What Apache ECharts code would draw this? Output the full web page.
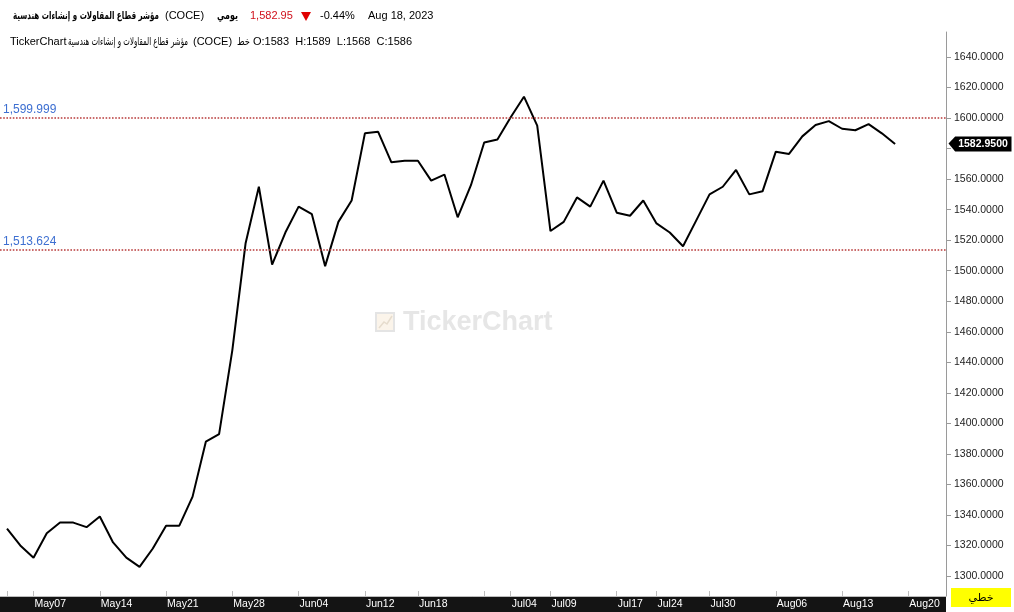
<!DOCTYPE html>
<html>
<head>
<meta charset="utf-8">
<title>COCE</title>
<script src="https://cdn.jsdelivr.net/npm/echarts@6/dist/echarts.min.js"></script>
<style>
  html, body { margin: 0; padding: 0; background: #fff; }
  #chart { width: 1014px; height: 612px; }
</style>
</head>
<body>
<div id="chart"></div>
<script>
// جلسات التداول (محور السينات) - آخر عنصر جلسة بدون بيانات
const dates = [
  'May03', 'May04', 'May07', 'May08', 'May09', 'May10', 'May11',
  'May14', 'May15', 'May16', 'May17', 'May18',
  'May21', 'May22', 'May23', 'May24', 'May25',
  'May28', 'May29', 'May30', 'May31', 'Jun01',
  'Jun04', 'Jun05', 'Jun06', 'Jun07', 'Jun08',
  'Jun12', 'Jun13', 'Jun14', 'Jun15',
  'Jun18', 'Jun19', 'Jun20', 'Jun21', 'Jun22',
  'Jun25', 'Jun26',
  'Jul04', 'Jul05', 'Jul06',
  'Jul09', 'Jul10', 'Jul11', 'Jul12', 'Jul13',
  'Jul17', 'Jul18', 'Jul19',
  'Jul24', 'Jul25', 'Jul26', 'Jul27',
  'Jul30', 'Jul31', 'Aug01', 'Aug02', 'Aug03',
  'Aug06', 'Aug07', 'Aug08', 'Aug09', 'Aug10',
  'Aug13', 'Aug14', 'Aug15', 'Aug16', 'Aug17',
  'Aug20'
];

// سعر الإغلاق
const closes = [
  1331, 1320, 1312, 1328, 1335, 1335, 1332,
  1339, 1322, 1312, 1306, 1318,
  1333, 1333, 1352, 1388, 1393,
  1448, 1518, 1555, 1504, 1525,
  1542, 1537, 1503, 1532, 1546,
  1590, 1591, 1571, 1572,
  1572, 1559, 1563, 1535, 1556,
  1584, 1586,
  1600.5, 1614, 1595,
  1526, 1532, 1548, 1542, 1559,
  1538, 1536, 1546,
  1531, 1525, 1516, 1533,
  1550, 1555, 1566, 1550, 1552,
  1578, 1576.5, 1588, 1595.5, 1598,
  1593, 1592, 1596, 1590, 1582.95
];

const tickDates = ['May03', 'May07', 'May14', 'May21', 'May28', 'Jun04', 'Jun12', 'Jun18',
  'Jun25', 'Jul04', 'Jul09', 'Jul17', 'Jul24', 'Jul30', 'Aug06', 'Aug13', 'Aug20'];
const labelDates = ['May07', 'May14', 'May21', 'May28', 'Jun04', 'Jun12', 'Jun18',
  'Jul04', 'Jul09', 'Jul17', 'Jul24', 'Jul30', 'Aug06', 'Aug13', 'Aug20'];

const yTicks = [1300, 1320, 1340, 1360, 1380, 1400, 1420, 1440, 1460, 1480,
  1500, 1520, 1540, 1560, 1580, 1600, 1620, 1640];

const refLevels = [1599.999, 1513.624];
const refLabels = ['1,599.999', '1,513.624'];

const font = '"Liberation Sans", Arial, sans-serif';
const arFont = '"DejaVu Sans", sans-serif';
const xMin = -0.529;
const xMax = 70.84;
const lastClose = closes[closes.length - 1];

// النص العربي أعرض من الأصل، نضغطه أفقياً ليأخذ نفس العرض
let measureCtx = document.createElement('canvas').getContext('2d');
function fitScale(text, f, w) {
  measureCtx.font = f;
  let m = measureCtx.measureText(text).width;
  return m > w ? w / m : 1;
}
function arText(text, x, y, f, w) {
  return {
    type: 'text',
    x: x, y: y,
    scaleX: fitScale(text, f, w),
    style: { text: text, fill: '#000', font: f, verticalAlign: 'middle' }
  };
}
function plainText(text, x, y, color) {
  return {
    type: 'text',
    x: x, y: y,
    style: { text: text, fill: color || '#000', font: '11px ' + font, verticalAlign: 'middle' }
  };
}

let chart = echarts.init(document.getElementById('chart'));

let option = {
  backgroundColor: '#fff',
  animation: false,
  grid: {
    left: 0,
    right: 68,
    top: 32,
    bottom: 16
  },
  xAxis: {
    type: 'value',
    min: xMin,
    max: xMax,
    splitLine: { show: false },
    axisLine: {
      show: true,
      onZero: false,
      lineStyle: { color: '#bdbdbd', width: 1 }
    },
    axisTick: {
      show: true,
      inside: true,
      length: 5,
      customValues: tickDates.map(d => dates.indexOf(d)),
      lineStyle: { color: '#bdbdbd' }
    },
    axisLabel: {
      customValues: labelDates.map(d => dates.indexOf(d)),
      formatter: function (v) {
        return dates[v];
      },
      color: '#fff',
      fontSize: 10.5,
      fontFamily: font,
      align: 'left',
      padding: [0, 0, 0, 1],
      margin: 3
    }
  },
  yAxis: {
    type: 'value',
    position: 'right',
    min: 1286.9,
    max: 1656.38,
    splitLine: { show: false },
    axisLine: {
      show: true,
      onZero: false,
      lineStyle: { color: '#9a9a9a', width: 1 }
    },
    axisTick: {
      show: true,
      length: 5,
      customValues: yTicks,
      lineStyle: { color: '#9a9a9a' }
    },
    axisLabel: {
      customValues: yTicks,
      formatter: function (v) {
        return v.toFixed(4);
      },
      color: '#222',
      fontSize: 10.5,
      fontFamily: font,
      margin: 8
    }
  },
  series: [
    {
      type: 'line',
      data: closes.map((v, i) => [i, v]),
      showSymbol: false,
      symbol: 'none',
      clip: false,
      lineStyle: { color: '#000', width: 2 },
      markLine: {
        silent: true,
        symbol: ['none', 'none'],
        lineStyle: { type: 'dotted', color: '#b83a3a', width: 1.6 },
        label: {
          position: 'insideStartTop',
          color: '#3d6fd1',
          fontSize: 12,
          fontFamily: font,
          distance: [3, 2]
        },
        data: refLevels.map((v, i) => ({
          yAxis: v,
          label: { formatter: refLabels[i] }
        }))
      },
      markPoint: {
        silent: true,
        symbol: 'path://M0,7 L7,0 L66,0 L66,15 L7,15 Z',
        symbolSize: [63, 15],
        symbolOffset: [34, 0],
        symbolKeepAspect: false,
        itemStyle: { color: '#000' },
        label: {
          show: true,
          color: '#fff',
          fontSize: 10.5,
          fontWeight: 'bold',
          fontFamily: font,
          offset: [3, 0],
          formatter: function (p) {
            return p.value.toFixed(4);
          }
        },
        data: [{ coord: [xMax, lastClose], value: lastClose }]
      }
    }
  ],
  graphic: [
    // شريط المحور السفلي
    {
      type: 'rect',
      z: -10,
      shape: { x: 0, y: 596, width: 946, height: 16 },
      style: { fill: '#141414' }
    },
    // نوع الرسم
    {
      type: 'rect',
      shape: { x: 951, y: 588, width: 60, height: 19 },
      style: { fill: '#ffff00' }
    },
    {
      type: 'text',
      x: 981, y: 598,
      style: { text: 'خطي', fill: '#000', font: '11px ' + arFont, align: 'center', verticalAlign: 'middle' }
    },
    // العلامة المائية
    {
      type: 'rect',
      z: -5,
      shape: { x: 376, y: 313, width: 18, height: 18 },
      style: { fill: '#fbf4ea', stroke: '#e4e4e4', lineWidth: 2 }
    },
    {
      type: 'polyline',
      z: -5,
      shape: { points: [[379, 328], [384, 322], [387, 324], [392, 316]] },
      style: { stroke: '#e6dccd', lineWidth: 1.5, fill: null }
    },
    {
      type: 'text',
      z: -5,
      x: 403, y: 323,
      style: { text: 'TickerChart', fill: '#e6e6e6', font: 'bold 27px ' + font, verticalAlign: 'middle' }
    },
    // العنوان - السطر الأول
    arText('مؤشر قطاع المقاولات و إنشاءات هندسية', 13, 16, 'bold 11px ' + arFont, 146),
    plainText('(COCE)', 165, 16),
    arText('يومي', 217, 16, 'bold 11px ' + arFont, 21),
    plainText('1,582.95', 250, 16, '#d0101b'),
    {
      type: 'polygon',
      shape: { points: [[301, 12], [311, 12], [306, 21]] },
      style: { fill: '#e00000' }
    },
    plainText('-0.44%', 320, 16),
    plainText('Aug 18, 2023', 368, 16),
    // العنوان - السطر الثاني
    plainText('TickerChart', 10, 42),
    arText('مؤشر قطاع المقاولات و إنشاءات هندسية', 68, 42, '11px ' + arFont, 120),
    plainText('(COCE)', 193, 42),
    arText('خط', 237, 42, '11px ' + arFont, 13),
    plainText('O:1583  H:1589  L:1568  C:1586', 253, 42)
  ]
};

chart.setOption(option);
</script>
</body>
</html>
